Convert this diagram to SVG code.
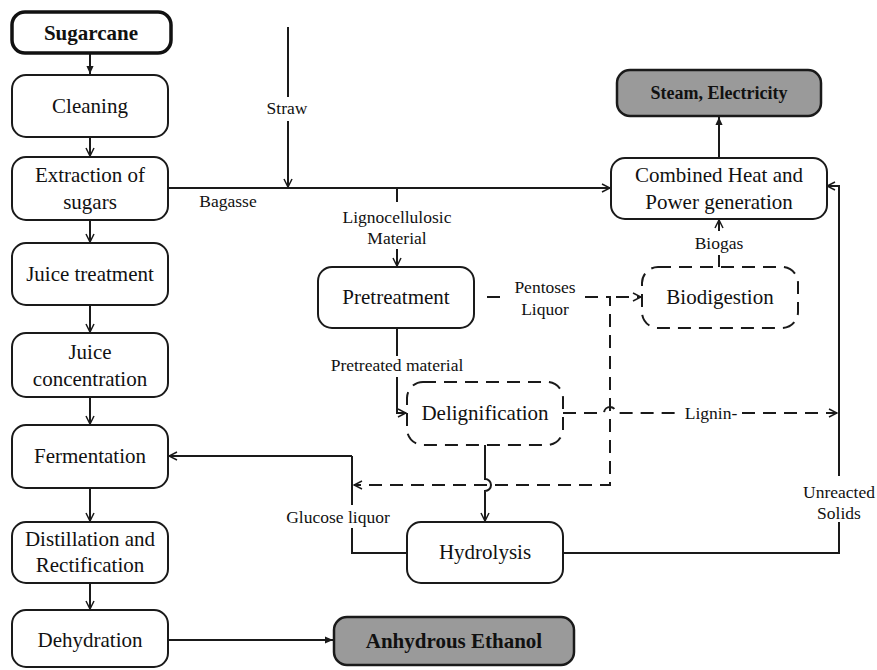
<svg xmlns="http://www.w3.org/2000/svg" width="877" height="670" viewBox="0 0 877 670">
<defs>
<style>
.box{fill:#fff;stroke:#1a1a1a;stroke-width:2}
.dbox{fill:#fff;stroke:#1a1a1a;stroke-width:2;stroke-dasharray:13 8}
.gbox{fill:#9a9a9a;stroke:#1a1a1a;stroke-width:2.5}
.tn{font-family:"Liberation Serif",serif;font-size:21px;fill:#111;text-anchor:middle}
.tb{font-family:"Liberation Serif",serif;font-weight:bold;fill:#111;text-anchor:middle}
.tl{font-family:"Liberation Serif",serif;font-size:17.5px;fill:#111;text-anchor:middle}
.ln{fill:none;stroke:#1a1a1a;stroke-width:2}
.dl{fill:none;stroke:#1a1a1a;stroke-width:2;stroke-dasharray:13 8}
</style>
<marker id="ao" viewBox="0 0 10 10" refX="9" refY="5" markerWidth="10" markerHeight="10" markerUnits="userSpaceOnUse" orient="auto">
<path d="M1,1 L9,5 L1,9" fill="none" stroke="#1a1a1a" stroke-width="1.5"/>
</marker>
<marker id="af" viewBox="0 0 10 10" refX="9" refY="5" markerWidth="9" markerHeight="9" markerUnits="userSpaceOnUse" orient="auto">
<path d="M0,1 L9,5 L0,9 Z" fill="#1a1a1a"/>
</marker>
</defs>
<rect width="877" height="670" fill="#fff"/>

<g id="connectors">
<line class="ln" x1="90" y1="54" x2="90" y2="74" marker-end="url(#af)"/>
<line class="ln" x1="90" y1="137" x2="90" y2="156" marker-end="url(#ao)"/>
<line class="ln" x1="90" y1="220" x2="90" y2="242" marker-end="url(#ao)"/>
<line class="ln" x1="90" y1="305" x2="90" y2="332" marker-end="url(#ao)"/>
<line class="ln" x1="90" y1="397" x2="90" y2="424" marker-end="url(#ao)"/>
<line class="ln" x1="90" y1="488" x2="90" y2="521" marker-end="url(#ao)"/>
<line class="ln" x1="90" y1="583" x2="90" y2="609" marker-end="url(#ao)"/>
<line class="ln" x1="168" y1="640" x2="333" y2="640" marker-end="url(#af)"/>
<!-- Straw -->
<line class="ln" x1="288" y1="27" x2="288" y2="97"/>
<line class="ln" x1="288" y1="121" x2="288" y2="187" marker-end="url(#ao)"/>
<!-- Bagasse -->
<line class="ln" x1="168" y1="188" x2="610" y2="188" marker-end="url(#ao)"/>
<!-- Lignocellulosic -->
<line class="ln" x1="397" y1="188" x2="397" y2="202"/>
<line class="ln" x1="397" y1="249" x2="397" y2="266" marker-end="url(#ao)"/>
<!-- Steam -->
<line class="ln" x1="719" y1="158" x2="719" y2="117" marker-end="url(#af)"/>
<!-- Biogas -->
<line class="ln" x1="719" y1="267" x2="719" y2="255"/>
<line class="ln" x1="719" y1="231" x2="719" y2="220" marker-end="url(#ao)"/>
<!-- Pretreated material -->
<line class="ln" x1="397" y1="328" x2="397" y2="356"/>
<polyline class="ln" points="397,377 397,413 406,413" marker-end="url(#ao)"/>
<!-- Pentoses Liquor -->
<line class="dl" x1="487" y1="297" x2="506" y2="297"/>
<polyline class="dl" points="585,297 610,297 610,478 610,485 354,485" marker-end="url(#ao)"/>
<line class="dl" x1="616" y1="297" x2="641" y2="297" stroke-dasharray="14 4" marker-end="url(#ao)"/>
<!-- Lignin -->
<path class="dl" d="M563,413 L604,413 A6,6 0 0 1 616,413 L680,413" stroke-dasharray="6 7 13 8"/>
<line class="dl" x1="742" y1="413" x2="837" y2="413" marker-end="url(#ao)"/>
<!-- Delignification to Hydrolysis -->
<path class="ln" d="M485,445 L485,479 A6,6 0 0 1 485,491 L485,521" marker-end="url(#ao)"/>
<!-- Glucose liquor -->
<line class="ln" x1="352" y1="456" x2="169" y2="456" marker-end="url(#ao)"/>
<line class="ln" x1="352" y1="456" x2="352" y2="505"/>
<polyline class="ln" points="352,528 352,553 407,553"/>
<!-- Unreacted Solids -->
<polyline class="ln" points="563,553 839,553 839,522"/>
<polyline class="ln" points="839,476 839,186 827,186" marker-end="url(#ao)"/>
</g>

<g id="sugarcane">
<rect x="12" y="12" width="159" height="41" rx="13" fill="#fff" stroke="#111" stroke-width="3.5"/>
<text class="tb" x="91" y="40" font-size="21">Sugarcane</text>
</g>
<g id="cleaning">
<rect class="box" x="12" y="75" width="156" height="62" rx="14"/>
<text class="tn" x="90" y="113">Cleaning</text>
</g>
<g id="extraction">
<rect class="box" x="12" y="157" width="156" height="63" rx="14"/>
<text class="tn" x="90" y="182">Extraction of</text>
<text class="tn" x="90" y="209">sugars</text>
</g>
<g id="juice-treatment">
<rect class="box" x="12" y="243" width="156" height="62" rx="14"/>
<text class="tn" x="90" y="281">Juice treatment</text>
</g>
<g id="juice-concentration">
<rect class="box" x="12" y="333" width="156" height="64" rx="14"/>
<text class="tn" x="90" y="359">Juice</text>
<text class="tn" x="90" y="386">concentration</text>
</g>
<g id="fermentation">
<rect class="box" x="12" y="425" width="156" height="63" rx="14"/>
<text class="tn" x="90" y="463">Fermentation</text>
</g>
<g id="distillation">
<rect class="box" x="12" y="522" width="156" height="61" rx="14"/>
<text class="tn" x="90" y="546">Distillation and</text>
<text class="tn" x="90" y="572">Rectification</text>
</g>
<g id="dehydration">
<rect class="box" x="12" y="610" width="156" height="57" rx="14"/>
<text class="tn" x="90" y="647">Dehydration</text>
</g>
<g id="anhydrous-ethanol">
<rect class="gbox" x="334" y="617" width="240" height="48" rx="13"/>
<text class="tb" x="454" y="648" font-size="21">Anhydrous Ethanol</text>
</g>
<g id="pretreatment">
<rect class="box" x="318" y="267" width="156" height="61" rx="14"/>
<text class="tn" x="396" y="304">Pretreatment</text>
</g>
<g id="delignification">
<rect class="dbox" x="407" y="382" width="156" height="63" rx="16"/>
<text class="tn" x="485" y="420">Delignification</text>
</g>
<g id="hydrolysis">
<rect class="box" x="407" y="522" width="156" height="61" rx="14"/>
<text class="tn" x="485" y="559">Hydrolysis</text>
</g>
<g id="biodigestion">
<rect class="dbox" x="642" y="267" width="156" height="61" rx="16"/>
<text class="tn" x="720" y="304">Biodigestion</text>
</g>
<g id="chp">
<rect class="box" x="611" y="158" width="216" height="61" rx="14"/>
<text class="tn" x="719" y="182">Combined Heat and</text>
<text class="tn" x="719" y="209">Power generation</text>
</g>
<g id="steam-electricity">
<rect class="gbox" x="617" y="70" width="204" height="46" rx="13"/>
<text class="tb" x="719" y="99" font-size="18">Steam, Electricity</text>
</g>

<g id="labels">
<text class="tl" x="287" y="114">Straw</text>
<text class="tl" x="228" y="207">Bagasse</text>
<text class="tl" x="397" y="223">Lignocellulosic</text>
<text class="tl" x="397" y="244">Material</text>
<text class="tl" x="545" y="293">Pentoses</text>
<text class="tl" x="545" y="315">Liquor</text>
<text class="tl" x="397" y="371">Pretreated material</text>
<text class="tl" x="711" y="419">Lignin-</text>
<text class="tl" x="719" y="249">Biogas</text>
<text class="tl" x="338" y="523">Glucose liquor</text>
<text class="tl" x="839" y="498">Unreacted</text>
<text class="tl" x="839" y="519">Solids</text>
</g>
</svg>
